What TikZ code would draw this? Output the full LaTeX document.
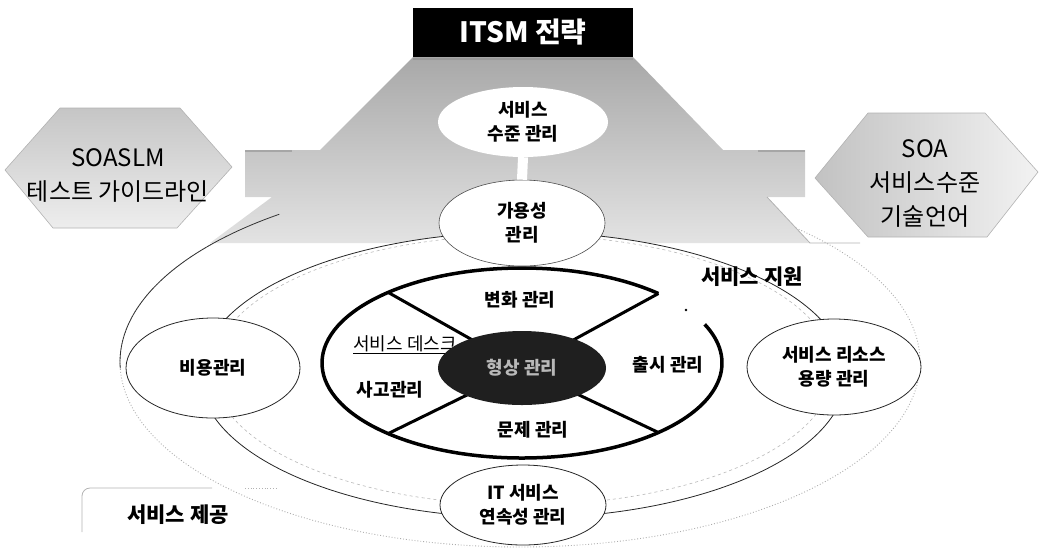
\documentclass[tikz,border=0pt]{standalone}
\usepackage{fontspec}
\setmainfont{Noto Sans CJK KR}
\usetikzlibrary{shapes.geometric}
\begin{document}
\begin{tikzpicture}[x=1pt,y=-1pt,
  lab/.style={font=\bfseries\fontsize{18}{24}\selectfont, align=center, inner sep=0pt},
  big/.style={font=\fontsize{24}{34}\selectfont, align=center, inner sep=0pt},
  ringell/.style={ellipse, fill=white, draw=black!85, line width=0.8pt, inner sep=0pt, align=center, font=\bfseries\fontsize{18}{24}\selectfont},
  plainell/.style={ellipse, fill=white, inner sep=0pt, align=center, font=\bfseries\fontsize{18}{24}\selectfont},
  spoke/.style={line width=3pt},
  area/.style={font=\bfseries\fontsize{21}{24}\selectfont, inner sep=0pt},
  hexfill/.style={draw=gray!60, line width=0.6pt}
]
\useasboundingbox (0,0) rectangle (1043,558);

% outer "service delivery" ellipse (faint)
\coordinate (pc) at (520,362);
\draw[gray!65, dotted, line width=0.9pt] (pc) ellipse[x radius=400, y radius=185];

% grey strategy region
\shade[top color=gray!68, bottom color=gray!22]
  (413,57) -- (633,57) -- (723,150) -- (805,150) -- (805,197) -- (767,197)
  -- (810,243) -- (210,243) -- (272,197) -- (245,197) -- (245,150) -- (320,150) -- cycle;
\draw[gray!80, line width=2.5pt] (413,59) -- (633,59);
\draw[gray!70, line width=2pt] (245,151) -- (292,151) (758,151) -- (805,151);
\draw[gray!60, line width=0.8pt] (767,197) -- (810,243) -- (860,243);
\draw[black!80, line width=0.8pt] (pc) ++(-127:400 and 185)
  arc[start angle=-127, end angle=-182, x radius=400, y radius=185];

% service delivery box edge
\draw[gray!60, line width=0.8pt, rounded corners=8pt] (82,532) -- (82,488) -- (212,488);
\draw[gray!60, dotted, line width=0.8pt] (245,488) -- (278,488);

% service support ring
\coordinate (sc) at (523,375);
\fill[white] (sc) ellipse[x radius=323, y radius=143];
\draw[gray!55, dashed, line width=0.6pt] (523,370) ellipse[x radius=310, y radius=135];
\draw[black!85, line width=0.8pt] (sc) ellipse[x radius=323, y radius=143];

% hexagons
\shade[top color=gray!45, bottom color=gray!14, hexfill]
  (5,170) -- (60,108) -- (180,108) -- (232,167) -- (177,228) -- (53,228) -- cycle;
\node[big] (hl) at (118,175) {SOASLM\\테스트 가이드라인};
\shade[left color=gray!48, right color=gray!10, hexfill]
  (815,178) -- (868,113) -- (985,113) -- (1038,172) -- (987,237) -- (868,237) -- cycle;
\node[big] (hr) at (925,183) {SOA\\서비스수준\\기술언어};

% ITSM strategy
\node[fill=black, text=white, font=\bfseries\fontsize{28}{30}\selectfont,
  minimum width=220pt, minimum height=49pt, inner sep=0pt] (itsm) at (523,32.5) {ITSM 전략};

% top ellipses
\node[plainell, minimum width=170pt, minimum height=70pt] (sl) at (523,122) {서비스\\수준 관리};
\node[ringell, draw=black!70, line width=0.6pt, minimum width=166pt, minimum height=86pt] (av) at (522,223) {가용성\\관리};
\draw[white, line width=10pt] (sl.south) -- (av.north);

% ring ellipses
\node[ringell, minimum width=174pt, minimum height=100pt] (cost) at (213,368) {비용관리};
\node[ringell, minimum width=174pt, minimum height=96pt] (cap) at (834,367) {서비스 리소스\\용량 관리};
\node[ringell, minimum width=166pt, minimum height=80pt] (itc) at (523,505) {IT 서비스\\연속성 관리};

\node[area] (sup) at (752,277) {서비스 지원};
\node[area] (dlv) at (178,515) {서비스 제공};

% inner thick ellipse with gap
\coordinate (ic) at (522,363);
\draw[line width=3.5pt] (ic) ++(-47:200 and 95)
  arc[start angle=-47, end angle=-384, x radius=200, y radius=95];
\fill (686,310) circle (1.3pt);
\path (ic) ++(-132:200 and 95) coordinate (s1);
\path (ic) ++(-47:200 and 95) coordinate (s2);
\path (ic) ++(132:200 and 95) coordinate (s3);
\path (ic) ++(47:200 and 95) coordinate (s4);
\coordinate (cmc) at (522,368);
\draw[spoke] (s1) -- (cmc);
\draw[spoke] (s2) -- (cmc);
\draw[spoke] (s3) -- (cmc);
\draw[spoke] (s4) -- (cmc);

\node[font=\fontsize{18}{20}\selectfont, inner sep=0pt] (sd) at (405,345) {\underline{서비스 데스크}};
\node[ellipse, fill=black!88, minimum width=168pt, minimum height=74pt, inner sep=0pt,
  text=white!72!black, font=\bfseries\fontsize{18}{24}\selectfont] (cm) at (cmc) {형상 관리};

\node[lab] (chg) at (520,300) {변화 관리};
\node[lab] (rel) at (668,365) {출시 관리};
\node[lab] (prb) at (533,430) {문제 관리};
\node[lab] (inc) at (390,390) {사고관리};
\end{tikzpicture}
\end{document}
